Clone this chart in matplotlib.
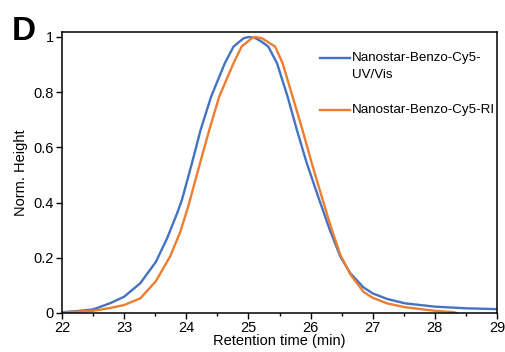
import matplotlib
matplotlib.use('Agg')
import matplotlib.pyplot as plt
from matplotlib.ticker import MultipleLocator

plt.rcParams['font.family'] = ['Liberation Sans', 'DejaVu Sans']

# values
timeUV = [22.0, 22.25, 22.5, 22.77, 23.0, 23.26, 23.51, 23.69, 23.85, 23.93, 24.09, 24.23, 24.4,
          24.62, 24.76, 24.92, 25.0, 25.1, 25.2, 25.32, 25.46, 25.63, 25.78, 25.94, 26.14, 26.31,
          26.48, 26.64, 26.85, 27.0, 27.23, 27.52, 28.0, 28.5, 29.0]
heightUV = [0.003, 0.007, 0.013, 0.035, 0.059, 0.108, 0.185, 0.27, 0.36, 0.41, 0.542, 0.663, 0.784,
            0.905, 0.965, 0.995, 1.0, 0.997, 0.985, 0.965, 0.905, 0.784, 0.663, 0.542, 0.41, 0.301,
            0.204, 0.144, 0.093, 0.071, 0.051, 0.035, 0.023, 0.017, 0.014]

timeRI = [22.0, 22.5, 22.77, 23.0, 23.26, 23.51, 23.74, 23.9, 24.03, 24.22, 24.37, 24.53, 24.76,
          24.89, 25.05, 25.12, 25.22, 25.43, 25.55, 25.71, 25.87, 26.02, 26.18, 26.33, 26.48, 26.64,
          26.85, 27.0, 27.23, 27.52, 28.0, 28.3, 28.35]
heightRI = [0.002, 0.008, 0.018, 0.029, 0.053, 0.115, 0.205, 0.292, 0.385, 0.542, 0.663, 0.784, 0.905,
            0.965, 0.995, 1.0, 0.995, 0.965, 0.905, 0.784, 0.663, 0.542, 0.421, 0.31, 0.21, 0.14,
            0.077, 0.055, 0.035, 0.021, 0.008, 0.003, 0.0]

labels = [['Nanostar-Benzo-Cy5-', 'UV/Vis'], ['Nanostar-Benzo-Cy5-RI']]
colors = ['#4472C4', '#ED7D31']

fig = plt.figure(figsize=(5.05, 3.52), dpi=100)
ax = fig.add_axes([62/505, 1-313/352, 435/505, 281/352])

ax.plot(timeUV, heightUV, color=colors[0], lw=1.7)
ax.plot(timeRI, heightRI, color=colors[1], lw=1.7)

ax.set_xlim(22, 29)
ax.set_ylim(0, 1.018)
ax.set_yticks([0, 0.2, 0.4, 0.6, 0.8, 1])
ax.set_yticklabels(['0', '0.2', '0.4', '0.6', '0.8', '1'])
ax.xaxis.set_minor_locator(MultipleLocator(0.5))
ax.tick_params(axis='both', which='major', length=4, width=1, labelsize=10.5, pad=2)
ax.tick_params(axis='x', which='minor', length=2.5, width=1)
for s in ax.spines.values():
    s.set_linewidth(1.1)

ax.set_xlabel('Retention time (min)', fontsize=10.5, labelpad=-1)
ax.set_ylabel('Norm. Height', fontsize=10.5, labelpad=4)

# legend drawn by hand, handle lines at the first text line
legY = [0.906, 0.722]
lineGap = 0.058
for lab, c, yy in zip(labels, colors, legY):
    ax.plot([0.593, 0.662], [yy, yy], color=c, lw=1.7, transform=ax.transAxes, clip_on=False)
    for i, line in enumerate(lab):
        ax.text(0.667, yy - i*lineGap, line, transform=ax.transAxes, fontsize=9.6,
                va='center', ha='left')

fig.text(12/505, 1-40/352, 'D', fontsize=24, fontweight='bold')

fig.savefig('out.png', dpi=100)
